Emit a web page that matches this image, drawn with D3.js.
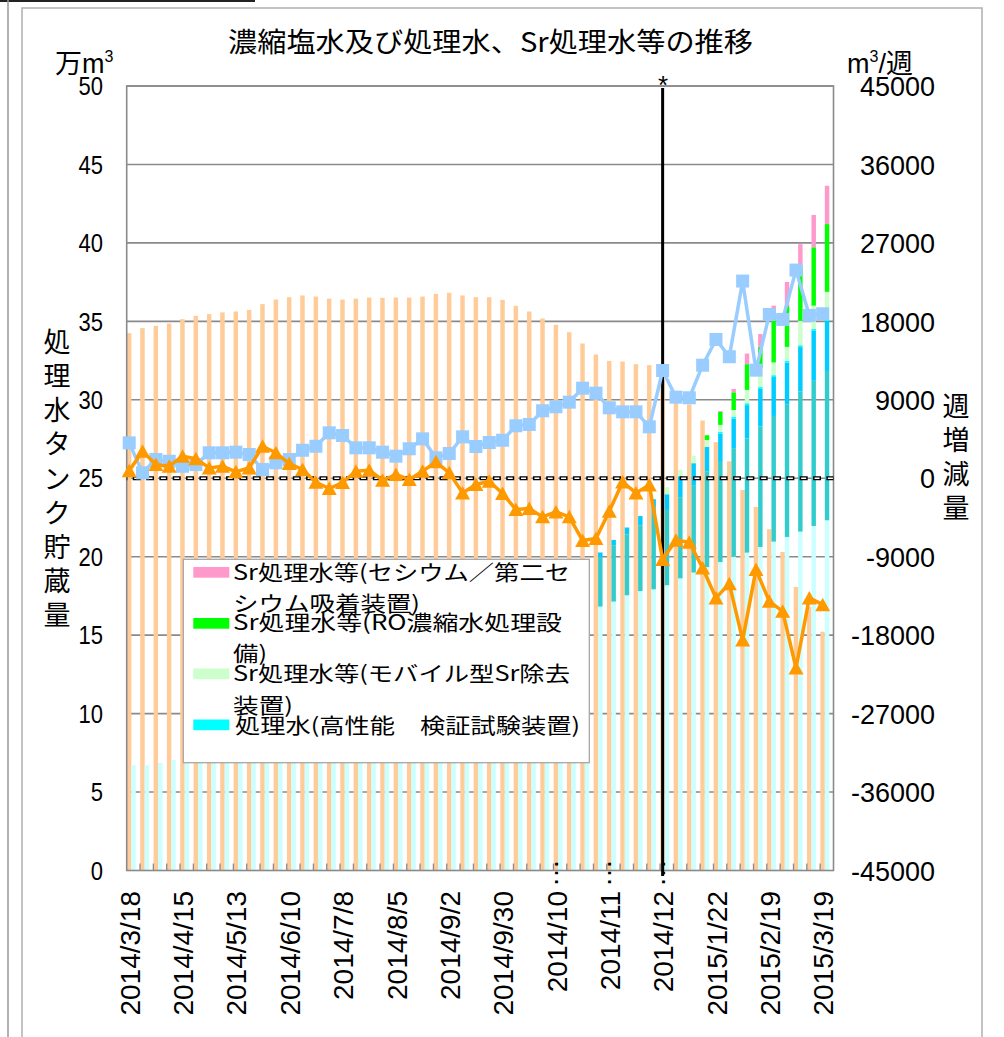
<!DOCTYPE html>
<html><head><meta charset="utf-8">
<script src="https://cdn.jsdelivr.net/npm/d3@7"></script>
<style>
body{margin:0;background:#fff}
svg{display:block}
text{font-family:"Liberation Sans",Arial,sans-serif;fill:#000}
.jp{font-family:"Noto Sans CJK JP","Noto Sans",sans-serif}
</style>
</head><body>
<svg id="chart" width="1004" height="1037"></svg>
<script>
// ---------- data ----------
const weeks = ["2014/3/18","2014/3/25","2014/4/1","2014/4/8","2014/4/15","2014/4/22","2014/4/29","2014/5/6","2014/5/13","2014/5/20","2014/5/27","2014/6/3","2014/6/10","2014/6/17","2014/6/24","2014/7/1","2014/7/8","2014/7/15","2014/7/22","2014/7/29","2014/8/5","2014/8/12","2014/8/19","2014/8/26","2014/9/2","2014/9/9","2014/9/16","2014/9/23","2014/9/30","2014/10/7","2014/10/14","2014/10/21","2014/10/28","2014/11/4","2014/11/11","2014/11/18","2014/11/25","2014/12/2","2014/12/9","2014/12/16","2014/12/25","2015/1/1","2015/1/8","2015/1/15","2015/1/22","2015/1/29","2015/2/5","2015/2/12","2015/2/19","2015/2/26","2015/3/5","2015/3/12","2015/3/19"];
const tickLabels = ["2014/3/18","2014/4/15","2014/5/13","2014/6/10","2014/7/8","2014/8/5","2014/9/2","2014/9/30","2014/10…","2014/11…","2014/12…","2015/1/22","2015/2/19","2015/3/19"];

// 万m3 (left axis)
const brine = [34.25,34.57,34.71,34.86,35.14,35.35,35.46,35.57,35.63,35.73,36.10,36.39,36.54,36.65,36.58,36.45,36.39,36.45,36.52,36.50,36.52,36.52,36.58,36.75,36.82,36.65,36.54,36.54,36.37,35.99,35.63,35.18,34.78,34.31,33.59,32.89,32.48,32.44,32.27,32.21,31.25,30.2,29.7,28.68,27.30,26.08,24.25,23.17,21.75,20.30,18.07,16.8,15.22];
const treatedExisting = [6.71,6.71,6.86,7.03,7.2,7.35,7.5,7.7,7.9,8.0,8.15,8.3,8.4,8.55,8.7,8.85,9.0,9.2,9.4,9.65,9.9,10.2,10.5,10.8,11.1,11.45,11.8,12.2,12.6,13.1,13.6,14.2,14.8,15.4,16.3,16.82,17.14,17.54,17.81,17.92,18.18,18.62,18.99,19.34,19.66,20.01,20.26,20.62,20.96,21.26,21.60,21.96,22.32];
const treatedAdditional = [0,0,0,0,0,0,0,0,0,0,0,0,0,0,0,0,0,0,0,0,0,0,0,0,0,0,0.2,0.5,0.8,1.1,1.4,1.8,2.2,2.6,2.9,3.13,3.59,3.89,4.19,5.21,4.80,5.17,5.57,6.1,6.44,6.91,7.27,7.68,8.01,8.46,8.93,9.25,9.52];
const treatedHighPerf = [0,0,0,0,0,0,0,0,0,0,0,0,0,0,0,0,0,0,0,0,0,0,0,0,0,0,0,0,0,0,0,0,0,0,0.2,0.32,0.34,0.43,0.59,0.53,1.0,1.34,1.40,1.55,1.75,1.88,2.13,2.39,2.48,2.64,2.83,3.18,3.18];
const treatedTestUnit = [0,0,0,0,0,0,0,0,0,0,0,0,0,0,0,0,0,0,0,0,0,0,0,0,0,0,0,0,0,0,0,0,0,0,0,0,0,0,0,0,0,0,0,0,0.1,0.12,0.12,0.12,0.12,0.12,0.12,0.12,0.12];
const srMobile = [0,0,0,0,0,0,0,0,0,0,0,0,0,0,0,0,0,0,0,0,0,0,0,0,0,0,0,0,0,0,0,0,0,0,0,0,0,0,0,0,0.45,0.40,0.47,0.45,0.45,0.43,0.85,1.21,0.81,0.89,1.55,1.49,1.74];
const srRO = [0,0,0,0,0,0,0,0,0,0,0,0,0,0,0,0,0,0,0,0,0,0,0,0,0,0,0,0,0,0,0,0,0,0,0,0,0,0,0,0,0,0,0,0.30,0.83,1.13,1.64,1.36,3.02,2.61,3.42,3.72,4.32];
const srCesium = [0,0,0,0,0,0,0,0,0,0,0,0,0,0,0,0,0,0,0,0,0,0,0,0,0,0,0,0,0,0,0,0,0,0,0,0,0,0,0,0,0,0,0,0,0.06,0.21,0.68,0.81,0.6,1.53,1.47,2.06,2.44];

// m3/週 (right axis)
const weeklyTreated = [4060,620,2150,1950,1380,1570,2920,2920,2990,2720,1000,1770,2150,3210,3670,5210,4900,3490,3490,2990,2530,3380,4520,2340,2840,4750,3640,4100,4360,6020,6170,7740,8200,8730,10330,9760,8080,7620,7620,5900,12360,9300,9230,12970,15920,13940,22620,12400,18790,18220,23880,18680,18870];
const weeklyBrine = [850,3100,1570,1380,2530,2230,1190,1380,740,1190,3670,2920,1690,1000,-460,-1180,-490,800,920,-230,430,-150,800,1880,620,-1680,-720,-340,-1760,-3590,-3480,-4430,-3860,-4430,-7150,-6920,-3790,-440,-1680,-780,-9330,-7120,-7350,-10290,-13730,-12090,-18570,-10480,-14120,-15270,-21770,-13730,-14500];

const leftTicks = [0,5,10,15,20,25,30,35,40,45,50];
const rightTicks = [-45000,-36000,-27000,-18000,-9000,0,9000,18000,27000,36000,45000];

const stackKeys = ["treatedExisting","treatedAdditional","treatedHighPerf","treatedTestUnit","srMobile","srRO","srCesium"];
const stackColors = {treatedExisting:"#CCFFFF",treatedAdditional:"#33CCCC",treatedHighPerf:"#00CCFF",treatedTestUnit:"#00FFFF",srMobile:"#CCFFCC",srRO:"#00FF00",srCesium:"#FF99CC"};
const legendItems = [
  {color:"#FF99CC", lines:["Sr処理水等(セシウム／第二セ","シウム吸着装置)"]},
  {color:"#00FF00", lines:["Sr処理水等(RO濃縮水処理設","備)"]},
  {color:"#CCFFCC", lines:["Sr処理水等(モバイル型Sr除去","装置)"]},
  {color:"#00FFFF", lines:["処理水(高性能　検証試験装置)"]}
];

// ---------- layout ----------
const svg = d3.select("#chart");
const L = 126.7, R = 833.5, T = 86, B = 870.5;
const x = d3.scaleBand().domain(d3.range(weeks.length)).range([L, R]).padding(0);
const bw = x.bandwidth();
const yL = d3.scaleLinear().domain([0, 50]).range([B, T]);
const yR = d3.scaleLinear().domain([-45000, 45000]).range([B, T]);
const ptX = i => x(i) + 2.5;

// outer frame
svg.append("line").attr("x1",0).attr("x2",255).attr("y1",1).attr("y2",1).attr("stroke","#222").attr("stroke-width",2);
svg.append("line").attr("x1",8).attr("x2",8).attr("y1",0).attr("y2",1037).attr("stroke","#999").attr("stroke-width",1.5);
svg.append("path").attr("d","M22,1037V8H982V1037").attr("fill","none").attr("stroke","#b0b0b0").attr("stroke-width",1.5);

// gridlines
svg.append("g").selectAll("line").data(leftTicks.filter(t=>t>0)).join("line")
  .attr("x1",L).attr("x2",R).attr("y1",d=>yL(d)).attr("y2",d=>yL(d))
  .attr("stroke","#8a8a8a").attr("stroke-width",1.6);

// brine bars
svg.append("g").selectAll("rect").data(brine).join("rect")
  .attr("x",(d,i)=>x(i)+0.2).attr("width",bw/3).attr("y",d=>yL(d)).attr("height",d=>B-yL(d))
  .attr("fill","#FFCC99");

// stacked bars
const table = weeks.map((w,i)=>({treatedExisting:treatedExisting[i],treatedAdditional:treatedAdditional[i],treatedHighPerf:treatedHighPerf[i],treatedTestUnit:treatedTestUnit[i],srMobile:srMobile[i],srRO:srRO[i],srCesium:srCesium[i]}));
const stacked = d3.stack().keys(stackKeys)(table);
svg.append("g").selectAll("g").data(stacked).join("g").attr("fill",d=>stackColors[d.key])
  .selectAll("rect").data(d=>d).join("rect")
  .attr("x",(d,i)=>x(i)+0.2+bw/3).attr("width",bw/3)
  .attr("y",d=>yL(d[1])).attr("height",d=>Math.max(0,yL(d[0])-yL(d[1])));

// plot frame
svg.append("rect").attr("x",L).attr("y",T).attr("width",R-L).attr("height",B-T)
  .attr("fill","none").attr("stroke","#8a8a8a").attr("stroke-width",1.6);
// category tick marks
svg.append("g").selectAll("line").data(d3.range(1,weeks.length)).join("line")
  .attr("x1",i=>x(i)).attr("x2",i=>x(i)).attr("y1",B).attr("y2",B-7)
  .attr("stroke","#8a8a8a").attr("stroke-width",1.3);

// vertical marker line
svg.append("line").attr("x1",ptX(40)).attr("x2",ptX(40)).attr("y1",88).attr("y2",876).attr("stroke","#000").attr("stroke-width",3);
svg.append("text").attr("x",ptX(40)+0.5).attr("y",94).attr("text-anchor","middle").style("font-size","26px").text("*");

// legend
const lg = svg.append("g");
lg.append("rect").attr("x",183.3).attr("y",559.3).attr("width",406).attr("height",203.4).attr("fill","#fff").attr("stroke","#a6a6a6").attr("stroke-width",1.3);
const swY = [567, 618, 668.5, 719.5];
const lineY = [[580,611],[630,661],[681,713],[733]];
const lineLen = [[337,187],[329,34],[337,60],[345]];
legendItems.forEach((it,k)=>{
  lg.append("rect").attr("x",193.3).attr("y",swY[k]).attr("width",36).attr("height",10.7).attr("fill",it.color);
  it.lines.forEach((t,j)=>{
    lg.append("text").attr("class","jp").attr("x",k===3?235:233).attr("y",lineY[k][j])
      .attr("textLength",lineLen[k][j]).attr("lengthAdjust","spacingAndGlyphs")
      .style("font-size","21px").text(t);
  });
});

// zero line (dashed)
const zy = yR(0);
svg.append("line").attr("x1",L).attr("x2",R).attr("y1",zy).attr("y2",zy)
  .attr("stroke","#000").attr("stroke-width",4).attr("stroke-dasharray","8 5.34").attr("stroke-dashoffset",-6);
svg.append("line").attr("x1",L).attr("x2",R).attr("y1",zy).attr("y2",zy)
  .attr("stroke","#fff").attr("stroke-width",1.3).attr("stroke-dasharray","5 8.34").attr("stroke-dashoffset",-7.5);

// weekly treated line (blue squares)
const lineGen = vals => d3.line().x((d,i)=>ptX(i)).y(d=>yR(d))(vals);
svg.append("path").attr("d",lineGen(weeklyTreated)).attr("fill","none").attr("stroke","#99CCFF").attr("stroke-width",3.5).attr("stroke-linejoin","round");
svg.append("g").selectAll("rect").data(weeklyTreated).join("rect")
  .attr("x",(d,i)=>ptX(i)-6.5).attr("y",d=>yR(d)-6.5).attr("width",13).attr("height",13).attr("fill","#99CCFF");

// weekly brine line (orange triangles)
svg.append("path").attr("d",lineGen(weeklyBrine)).attr("fill","none").attr("stroke","#FF9900").attr("stroke-width",3.5).attr("stroke-linejoin","round");
svg.append("g").selectAll("path").data(weeklyBrine).join("path")
  .attr("d",(d,i)=>{const cx=ptX(i), cy=yR(d); return `M${cx},${cy-7}L${cx+7.5},${cy+6.5}L${cx-7.5},${cy+6.5}Z`;})
  .attr("fill","#FF9900");

// left axis labels
svg.append("g").selectAll("text").data(leftTicks).join("text")
  .attr("transform",d=>`translate(103,${yL(d)}) scale(1,1.16)`).attr("dy","0.36em")
  .attr("text-anchor","end").style("font-size","22px").text(d=>d);
// right axis labels
svg.append("g").selectAll("text").data(rightTicks).join("text")
  .attr("transform",d=>`translate(935,${yR(d)}) scale(1,1.05)`).attr("dy","0.36em")
  .attr("text-anchor","end").style("font-size","27px").text(d=>d);

// x labels
tickLabels.forEach((lab,k)=>{
  const i = weeks.indexOf(weeks[k*4]);
  const cx = x(i) + 3.3;
  const main = lab.replace("…","");
  svg.append("text").attr("transform",`translate(${cx},891) rotate(-90)`).attr("text-anchor","end")
    .attr("dy","0.35em").style("font-size","28px").text(main);
  if (lab.endsWith("…")) {
    svg.append("text").attr("transform",`translate(${cx},873) rotate(-90)`).attr("text-anchor","middle")
      .attr("dy","0.05em").style("font-size","28px").text("…");
  }
});

// title
svg.append("text").attr("class","jp").attr("x",228).attr("y",52).attr("textLength",525).attr("lengthAdjust","spacingAndGlyphs")
  .style("font-size","27px").text("濃縮塩水及び処理水、Sr処理水等の推移");

// unit labels
const u1 = svg.append("text").attr("x",55).attr("y",73).style("font-size","27px");
u1.append("tspan").attr("class","jp").text("万");
u1.append("tspan").text("m");
u1.append("tspan").attr("dy",-11).style("font-size","16px").text("3");
const u2 = svg.append("text").attr("x",847).attr("y",73).style("font-size","27px");
u2.append("tspan").text("m");
u2.append("tspan").attr("dy",-11).style("font-size","16px").text("3");
u2.append("tspan").attr("dy",11).text("/");
u2.append("tspan").attr("class","jp").text("週");

// axis titles (vertical stacked characters)
const leftTitle = "処理水タンク貯蔵量".split("");
svg.append("g").selectAll("text").data(leftTitle).join("text").attr("class","jp")
  .attr("x",57).attr("y",(d,i)=>342+i*34.2).attr("dy","0.36em").attr("text-anchor","middle")
  .style("font-size","27px").text(d=>d);
const rightTitle = "週増減量".split("");
svg.append("g").selectAll("text").data(rightTitle).join("text").attr("class","jp")
  .attr("x",956).attr("y",(d,i)=>406+i*34.2).attr("dy","0.36em").attr("text-anchor","middle")
  .style("font-size","27px").text(d=>d);
</script>
</body></html>
